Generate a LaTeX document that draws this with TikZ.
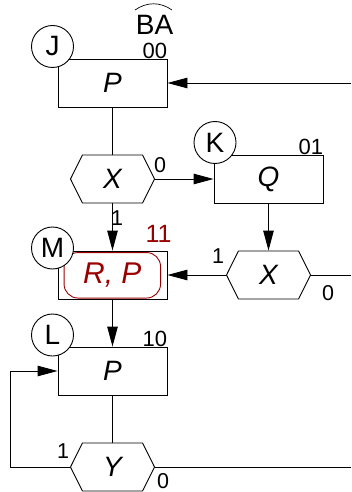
\documentclass[tikz,border=0pt]{standalone}
\usepackage{fontspec}
\setmainfont{Liberation Sans}
\usetikzlibrary{arrows.meta,shapes.symbols}
\definecolor{StateRed}{HTML}{990000}

\begin{document}
\begin{tikzpicture}[
	x=1pt,
	y=-1pt,
	line width=0.9pt,
	state/.style={
		draw,
		minimum width=109pt,
		minimum height=48pt,
		inner sep=0pt,
		font=\fontsize{28}{28}\selectfont\itshape
	},
	tag/.style={
		draw,
		circle,
		fill=white,
		minimum size=42pt,
		inner sep=0pt,
		font=\fontsize{28}{28}\selectfont
	},
	test/.style={
		draw,
		signal,
		signal to=east and west,
		signal pointer angle=127,
		minimum width=84pt,
		minimum height=48pt,
		inner sep=0pt,
		font=\fontsize{28}{28}\selectfont\itshape
	},
	code/.style={
		inner sep=0pt,
		font=\fontsize{22}{22}\selectfont
	},
	branch/.style={
		inner sep=0pt,
		font=\fontsize{21.5}{21.5}\selectfont
	},
	flow/.style={
		-{Triangle[length=20pt,width=10.5pt]}
	}
]
\useasboundingbox (0,0) rectangle (351,492);

\node[state] (jbox) at (112.5,83) {P};
\node[tag] (jtag) at (52.5,46.5) {J};
\node[code, anchor=base east] (jcode) at (jbox.north east) {00};
\node[inner sep=0pt, anchor=base, font=\fontsize{28}{28}\selectfont] (ba) at (154.5,35) {BA};
\draw[line width=0.7pt] (135,10) to[bend left=35] (172,10);

\node[test] (xa) at (112.5,179) {X};

\node[state] (kbox) at (268.5,179) {Q};
\node[tag] (ktag) at (215,142.5) {K};
\node[code, anchor=base east] (kcode) at (kbox.north east) {01};

\node[test] (xb) at (268.5,275) {X};

\node[state] (mbox) at (112.5,275) {};
\node[draw=StateRed, text=StateRed, rounded corners=14pt, minimum width=96.5pt, minimum height=45.5pt, inner sep=0pt,
	font=\fontsize{30}{30}\selectfont\itshape] (mact) at (112.3,275.3) {R, P};
\node[tag] (mtag) at (52.5,248) {M};
\node[inner sep=0pt, text=StateRed, font=\fontsize{25}{25}\selectfont] (mcode) at (158.5,234) {11};

\node[state] (lbox) at (112.5,371) {P};
\node[tag] (ltag) at (52.5,335) {L};
\node[code, anchor=base east] (lcode) at (lbox.north east) {10};

\node[test] (yt) at (112.5,467) {Y};

\coordinate (jin) at (351,83);
\coordinate (xbout) at (351,275);
\coordinate (yout) at (351,467);
\coordinate (yloop) at (10.7,467);

\draw[flow] (jin) -- (jbox.east);
\draw (jbox.south) -- (xa.north);
\draw[flow] (xa.east) -- (kbox.west);
\draw[flow] (xa.south) -- (mbox.north);
\draw[flow] (kbox.south) -- (xb.north);
\draw[flow] (xb.west) -- (mbox.east);
\draw (xb.east) -- (xbout);
\draw[flow] (mbox.south) -- (lbox.north);
\draw (lbox.south) -- (yt.north);
\draw[flow] (yt.west) -- (yloop) |- (lbox.west);
\draw (yt.east) -- (yout);

\node[branch] (xa0) at (160,165) {0};
\node[branch] (xa1) at (117,218) {1};
\node[branch] (xb1) at (218,256) {1};
\node[branch] (xb0) at (328,293) {0};
\node[branch] (yt1) at (63,451) {1};
\node[branch] (yt0) at (163,481) {0};

\end{tikzpicture}
\end{document}
